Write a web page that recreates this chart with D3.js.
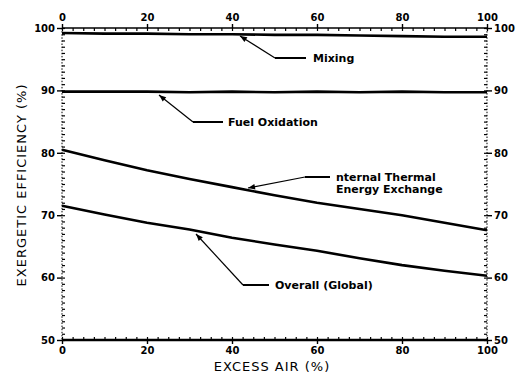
<!DOCTYPE html>
<html><head><meta charset="utf-8">
<script src="https://cdn.jsdelivr.net/npm/d3@7"></script>
<style>body{margin:0;background:#fff}svg{display:block}text{font-family:"DejaVu Sans",sans-serif;fill:#000}</style>
</head><body>
<svg id="c" width="517" height="378"></svg>
<script>
const excessAir = [0,10,20,30,40,50,60,70,80,90,100];
const mixing   = [99.2,99.1,99.1,99.0,99.0,98.9,98.9,98.8,98.7,98.6,98.6];
const fuelOx   = [89.8,89.8,89.8,89.7,89.8,89.7,89.8,89.7,89.8,89.7,89.7];
const thermal  = [80.5,78.8,77.2,75.8,74.5,73.2,72.0,71.0,70.0,68.8,67.6];
const overall  = [71.5,70.1,68.8,67.7,66.4,65.3,64.3,63.1,62.0,61.1,60.3];
const xTicks = [0,20,40,60,80,100];
const yTicks = [50,60,70,80,90,100];

(function(){
const svg = d3.select("#c");
const x = d3.scaleLinear().domain([0,100]).range([62,487]);
const y = d3.scaleLinear().domain([50,100]).range([340,28]);

// frame lines
svg.append("line").attr("x1",x(0)).attr("x2",x(100)).attr("y1",y(100)).attr("y2",y(100)).attr("stroke","#000").attr("stroke-width",1.5);
svg.append("line").attr("x1",x(0)).attr("x2",x(100)).attr("y1",y(50)).attr("y2",y(50)).attr("stroke","#000").attr("stroke-width",2.5);
svg.append("line").attr("x1",x(0)).attr("x2",x(0)).attr("y1",y(100)).attr("y2",y(50)).attr("stroke","#000").attr("stroke-width",1).attr("stroke-dasharray","1.5,1.6");
svg.append("line").attr("x1",x(100)).attr("x2",x(100)).attr("y1",y(100)).attr("y2",y(50)).attr("stroke","#000").attr("stroke-width",1).attr("stroke-dasharray","1.5,1.6");

// minor ticks
const gB = svg.append("g").attr("transform",`translate(0,${y(50)})`)
  .call(d3.axisBottom(x).tickValues(d3.range(0,100.1,2.5)).tickSize(-3).tickFormat(""));
const gT = svg.append("g").attr("transform",`translate(0,${y(100)})`)
  .call(d3.axisTop(x).tickValues(d3.range(0,100.1,2.5)).tickSize(-3).tickFormat(""));
const gL = svg.append("g").attr("transform",`translate(${x(0)},0)`)
  .call(d3.axisLeft(y).tickValues(d3.range(50,100.1,1)).tickSize(-3).tickFormat(""));
const gR = svg.append("g").attr("transform",`translate(${x(100)},0)`)
  .call(d3.axisRight(y).tickValues(d3.range(50,100.1,1)).tickSize(-3).tickFormat(""));
[gB,gT,gL,gR].forEach(g=>{g.select(".domain").remove();g.selectAll(".tick line").attr("stroke","#000").attr("stroke-width",1.2);});
// major ticks
const majL = svg.append("g").attr("transform",`translate(${x(0)},0)`).call(d3.axisLeft(y).tickValues(yTicks).tickSize(5).tickFormat(d=>d));
const majR = svg.append("g").attr("transform",`translate(${x(100)},0)`).call(d3.axisRight(y).tickValues(yTicks).tickSize(5).tickFormat(d=>d));
const majB = svg.append("g").attr("transform",`translate(0,${y(50)})`).call(d3.axisBottom(x).tickValues(xTicks).tickSize(4).tickFormat(d=>d));
const majT = svg.append("g").attr("transform",`translate(0,${y(100)})`).call(d3.axisTop(x).tickValues(xTicks).tickSize(4).tickFormat(d=>d));
[majL,majR,majB,majT].forEach(g=>{g.select(".domain").remove();g.selectAll(".tick line").attr("stroke","#000").attr("stroke-width",1.4);
  g.selectAll("text").attr("font-size",10).attr("font-weight","bold").attr("font-family","DejaVu Sans").attr("fill","#000");});
majL.selectAll("text").attr("x",-7);
majR.selectAll("text").attr("x",7);
majB.selectAll("text").attr("y",7);
majT.selectAll("text").attr("y",-7);

// series
const line = d3.line().x((d,i)=>x(excessAir[i])).y(d=>y(d));
[mixing,fuelOx,thermal,overall].forEach(s=>{
  svg.append("path").datum(s).attr("d",line).attr("fill","none").attr("stroke","#000").attr("stroke-width",2.6).attr("stroke-linejoin","round");
});

// annotations
const ann = [
  {pts:[[240,36],[275,58],[306,58]], label:["Mixing"], lx:313, ly:62},
  {pts:[[159,95],[193,122],[223,122]], label:["Fuel Oxidation"], lx:228, ly:126},
  {pts:[[248,188],[305,177],[330,177]], label:["nternal Thermal","Energy Exchange"], lx:336, ly:181},
  {pts:[[196,234],[243,285],[269,285]], label:["Overall (Global)"], lx:275, ly:289}
];
svg.append("defs").append("marker").attr("id","ar").attr("viewBox","0 0 10 10").attr("refX",10).attr("refY",5)
  .attr("markerWidth",9).attr("markerHeight",7).attr("orient","auto-start-reverse").attr("markerUnits","userSpaceOnUse")
  .append("path").attr("d","M0,1 L10,5 L0,9 Z").attr("fill","#000");
ann.forEach(a=>{
  svg.append("path").attr("d",d3.line()(a.pts.slice(0,2))).attr("fill","none").attr("stroke","#000").attr("stroke-width",1.2)
    .attr("marker-start","url(#ar)");
  svg.append("line").attr("x1",a.pts[1][0]).attr("y1",a.pts[1][1]).attr("x2",a.pts[2][0]).attr("y2",a.pts[2][1]).attr("stroke","#000").attr("stroke-width",2);
  const t = svg.append("text").attr("x",a.lx).attr("y",a.ly).attr("font-size",11).attr("font-weight","bold");
  a.label.forEach((s,i)=>t.append("tspan").attr("x",a.lx).attr("dy",i?12:0).text(s));
});

// axis titles
svg.append("text").attr("x",272).attr("y",371).attr("text-anchor","middle").attr("font-size",13).attr("letter-spacing",1).text("EXCESS AIR (%)");
svg.append("text").attr("transform","translate(26,185) rotate(-90)").attr("text-anchor","middle").attr("font-size",13).attr("letter-spacing",1).text("EXERGETIC EFFICIENCY (%)");
})();
</script>
</body></html>
